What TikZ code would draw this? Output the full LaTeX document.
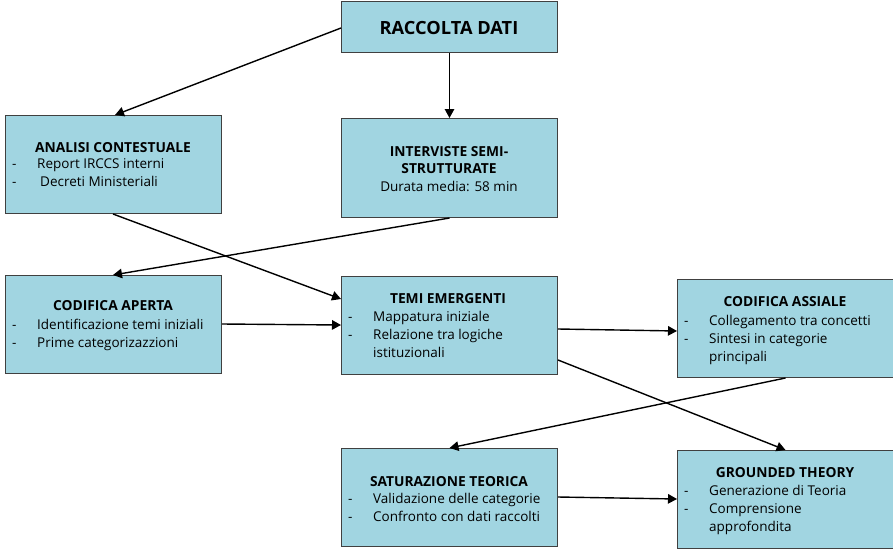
\documentclass[tikz,border=0pt]{standalone}
\usepackage{fontspec}
\setmainfont{Open Sans}
\usetikzlibrary{arrows.meta}
\definecolor{boxfill}{RGB}{161,213,225}
\definecolor{boxdraw}{RGB}{64,64,64}
\tikzset{
  box/.style={draw=boxdraw, fill=boxfill, line width=1pt, anchor=north west, inner sep=0pt},
  ttl/.style={font=\bfseries\fontsize{13.8}{16}\selectfont, inner sep=0pt, anchor=base},
  big/.style={font=\bfseries\fontsize{18.2}{20}\selectfont, inner sep=0pt, anchor=base},
  txt/.style={font=\fontsize{13.5}{16}\selectfont, inner sep=0pt, anchor=base west},
  ctxt/.style={font=\fontsize{13.5}{16}\selectfont, inner sep=0pt, anchor=base},
  arr/.style={-{Triangle[length=9pt,width=9.5pt]}, line width=1.4pt, black}
}
\begin{document}
\begin{tikzpicture}[x=1pt,y=-1pt]
\useasboundingbox (0,0) rectangle (893,549);
% boxes
\node[box, minimum width=216pt, minimum height=51pt] (rd) at (341,1) {};
\node[box, minimum width=216pt, minimum height=98pt] (ac) at (5,115) {};
\node[box, minimum width=216pt, minimum height=99pt] (is) at (341,118) {};
\node[box, minimum width=216pt, minimum height=98pt] (ca) at (5,275) {};
\node[box, minimum width=216pt, minimum height=98pt] (te) at (341,276) {};
\node[box, minimum width=216pt, minimum height=98pt] (cs) at (677,279) {};
\node[box, minimum width=216pt, minimum height=98pt] (st) at (341,448) {};
\node[box, minimum width=216pt, minimum height=98pt] (gt) at (677,450) {};
% texts
\node[big] (rdt) at (449,34) {RACCOLTA DATI};

\node[ttl] (act) at (113,152.5) {ANALISI CONTESTUALE};
\node[txt] (acd1) at (12,168.5) {-};
\node[txt] (ac1) at (37,168.5) {Report IRCCS interni};
\node[txt] (acd2) at (12,186.5) {-};
\node[txt] (ac2) at (40,186.5) {Decreti Ministeriali};

\node[ttl] (ist1) at (449,156.5) {INTERVISTE SEMI-};
\node[ttl] (ist2) at (449,173.5) {STRUTTURATE};
\node[ctxt] (is1) at (449,191) {Durata media: 58 min};

\node[ttl] (cat) at (113,310.5) {CODIFICA APERTA};
\node[txt] (cad1) at (12,329) {-};
\node[txt] (ca1) at (37,329) {Identificazione temi iniziali};
\node[txt] (cad2) at (12,347) {-};
\node[txt] (ca2) at (37,347) {Prime categorizazzioni};

\node[ttl] (tet) at (448,303.5) {TEMI EMERGENTI};
\node[txt] (ted1) at (348,321) {-};
\node[txt] (te1) at (373,321) {Mappatura iniziale};
\node[txt] (ted2) at (348,339) {-};
\node[txt] (te2) at (373,339) {Relazione tra logiche};
\node[txt] (te3) at (373,357) {istituzionali};

\node[ttl] (cst) at (785,306.5) {CODIFICA ASSIALE};
\node[txt] (csd1) at (684,325) {-};
\node[txt] (cs1) at (709,325) {Collegamento tra concetti};
\node[txt] (csd2) at (684,343) {-};
\node[txt] (cs2) at (709,343) {Sintesi in categorie};
\node[txt] (cs3) at (709,361) {principali};

\node[ttl] (stt) at (449,486.5) {SATURAZIONE TEORICA};
\node[txt] (std1) at (348,503) {-};
\node[txt] (st1) at (373,503) {Validazione delle categorie};
\node[txt] (std2) at (348,521) {-};
\node[txt] (st2) at (373,521) {Confronto con dati raccolti};

\node[ttl] (gtt) at (785,477.5) {GROUNDED THEORY};
\node[txt] (gtd1) at (684,495) {-};
\node[txt] (gt1) at (709,495) {Generazione di Teoria};
\node[txt] (gtd2) at (684,513) {-};
\node[txt] (gt2) at (709,513) {Comprensione};
\node[txt] (gt3) at (709,531) {approfondita};

% arrows
\draw[arr] ([yshift=-27pt]rd.north west) -- ([xshift=110pt]ac.north west);
\draw[arr] (rd.south) -- (is.north);
\draw[arr] ([xshift=108pt]ac.south west) -- ([yshift=-23pt]te.north west);
\draw[arr] (is.south) -- ([xshift=108pt]ca.north west);
\draw[arr] ([yshift=-49pt]ca.north east) -- ([yshift=-49pt]te.north west);
\draw[arr] ([yshift=-53pt]te.north east) -- ([yshift=-52pt]cs.north west);
\draw[arr] ([yshift=-84pt]te.north east) -- (gt.north);
\draw[arr] (cs.south) -- (st.north);
\draw[arr] ([yshift=-49pt]st.north east) -- ([yshift=-49pt]gt.north west);
\end{tikzpicture}
\end{document}
